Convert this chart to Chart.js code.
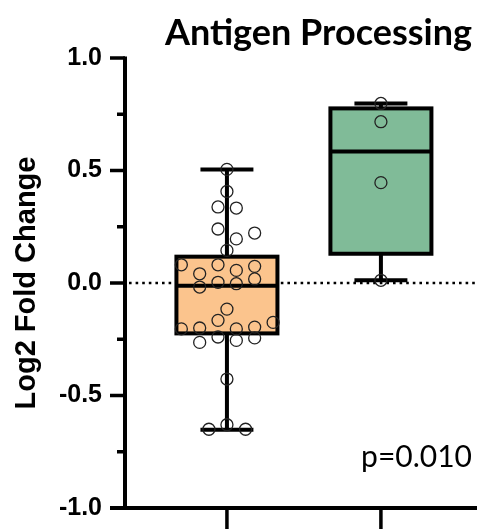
<!DOCTYPE html>
<html>
<head>
<meta charset="utf-8">
<script src="https://cdn.jsdelivr.net/npm/chart.js@4.4.1/dist/chart.umd.min.js"></script>
<style>
  html, body { margin: 0; padding: 0; background: #fff; }
  #wrap { width: 477px; height: 529px; }
</style>
</head>
<body>
<div id="wrap"><canvas id="foldChart"></canvas></div>
<script>
// Groups sit at x = 1 and x = 2 on a linear axis
const groupPositions = [1, 2];
const boxColors = ['#FBC48D', '#80BB98'];

// Box summaries: whisker low, Q1, median, Q3, whisker high
const boxLow = [-0.652, 0.012];
const boxQ1 = [-0.224, 0.130];
const boxMedian = [-0.012, 0.584];
const boxQ3 = [0.117, 0.776];
const boxHigh = [0.505, 0.798];

// Individual genes, group 1 (x = jitter offset around the group)
const group1Offsets = [0, 0, -0.058, 0.061, -0.058, 0.18, 0.061, 0,
  -0.296, -0.058, 0.061, 0.18, -0.177, 0.18, -0.058, 0.061, -0.177,
  0, -0.058, 0.30, -0.296, -0.177, 0.061, 0.18, -0.058, -0.177, 0.061, 0.18,
  0, -0.117, 0, 0.121];
const group1Values = [0.505, 0.407, 0.338, 0.333, 0.240, 0.222, 0.196, 0.145,
  0.081, 0.081, 0.056, 0.074, 0.041, 0.018, 0.003, -0.003, -0.018,
  -0.116, -0.166, -0.175, -0.204, -0.200, -0.204, -0.196, -0.240, -0.264, -0.255, -0.244,
  -0.427, -0.650, -0.630, -0.650];

// Group 2
const group2Offsets = [0, 0, 0, 0];
const group2Values = [0.798, 0.717, 0.446, 0.012];

const yTickStep = 0.25;
const pValueText = 'p=0.010';
const titleText = 'Antigen Processing';

const toPoints = (pos, offs, vals) => vals.map((v, i) => ({ x: pos + offs[i], y: v }));

const BOX_HALF = 0.328;
const CAP_HALF = 0.172;

const boxPlugin = {
  id: 'boxWhisker',
  beforeDatasetsDraw(chart) {
    const { ctx, chartArea, scales: { x, y } } = chart;
    ctx.save();
    // dotted zero line
    ctx.setLineDash([2.6, 4]);
    ctx.lineWidth = 2.7;
    ctx.strokeStyle = '#000';
    ctx.beginPath();
    ctx.moveTo(chartArea.left + 4, y.getPixelForValue(0));
    ctx.lineTo(chartArea.right, y.getPixelForValue(0));
    ctx.stroke();
    ctx.setLineDash([]);

    groupPositions.forEach((pos, i) => {
      const cx = x.getPixelForValue(pos);
      const hw = x.getPixelForValue(pos + BOX_HALF) - cx;
      const cw = x.getPixelForValue(pos + CAP_HALF) - cx;
      const yLow = y.getPixelForValue(boxLow[i]);
      const yHigh = y.getPixelForValue(boxHigh[i]);
      const yQ1 = y.getPixelForValue(boxQ1[i]);
      const yQ3 = y.getPixelForValue(boxQ3[i]);
      const yMed = y.getPixelForValue(boxMedian[i]);

      ctx.strokeStyle = '#000';
      ctx.lineWidth = 4;
      ctx.beginPath();
      ctx.moveTo(cx, yLow); ctx.lineTo(cx, yHigh);
      ctx.moveTo(cx - cw, yLow); ctx.lineTo(cx + cw, yLow);
      ctx.moveTo(cx - cw, yHigh); ctx.lineTo(cx + cw, yHigh);
      ctx.stroke();

      ctx.fillStyle = boxColors[i];
      ctx.fillRect(cx - hw, yQ3, hw * 2, yQ1 - yQ3);
      ctx.strokeRect(cx - hw, yQ3, hw * 2, yQ1 - yQ3);
      ctx.beginPath();
      ctx.moveTo(cx - hw, yMed); ctx.lineTo(cx + hw, yMed);
      ctx.stroke();
    });
    ctx.restore();
  },
  afterDraw(chart) {
    const { ctx, chartArea, scales: { x, y } } = chart;
    ctx.save();
    ctx.strokeStyle = '#000';
    // axes
    ctx.lineWidth = 4;
    ctx.beginPath();
    ctx.moveTo(chartArea.left, chartArea.top - 1.5);
    ctx.lineTo(chartArea.left, chartArea.bottom);
    ctx.moveTo(chartArea.left - 15, chartArea.bottom);
    ctx.lineTo(chart.width, chartArea.bottom);
    ctx.stroke();
    // y ticks, long at labelled values
    ctx.lineWidth = 3.5;
    ctx.beginPath();
    y.ticks.forEach(t => {
      const py = y.getPixelForValue(t.value);
      const major = Math.round(t.value / yTickStep) % 2 === 0;
      ctx.moveTo(chartArea.left - (major ? 15 : 8), py);
      ctx.lineTo(chartArea.left, py);
    });
    // x ticks under each group
    groupPositions.forEach(pos => {
      const px = x.getPixelForValue(pos);
      ctx.moveTo(px, chartArea.bottom);
      ctx.lineTo(px, chart.height);
    });
    ctx.stroke();

    ctx.fillStyle = '#000';
    ctx.textAlign = 'right';
    ctx.textBaseline = 'alphabetic';
    ctx.font = 'bold 36px Lato, "Open Sans", sans-serif';
    ctx.fillText(titleText, 472, 45);
    ctx.font = '30px Lato, "Open Sans", sans-serif';
    ctx.fillText(pValueText, 472, 467);
    ctx.restore();
  }
};

new Chart(document.getElementById('foldChart'), {
  type: 'scatter',
  data: {
    datasets: [
      { data: toPoints(groupPositions[0], group1Offsets, group1Values) },
      { data: toPoints(groupPositions[1], group2Offsets, group2Values) }
    ]
  },
  options: {
    responsive: true,
    maintainAspectRatio: false,
    animation: false,
    layout: { autoPadding: false, padding: { top: 58, right: 0, bottom: 21, left: 0 } },
    elements: {
      point: {
        radius: 6,
        borderWidth: 1.3,
        borderColor: '#222',
        backgroundColor: 'rgba(0,0,0,0)'
      }
    },
    plugins: {
      legend: { display: false },
      tooltip: { enabled: false }
    },
    scales: {
      x: {
        type: 'linear',
        display: false,
        min: 0.338,
        max: 2.624
      },
      y: {
        min: -1,
        max: 1,
        afterFit: (scale) => {
          // fixed axis width; tick labels may overhang the plot edges
          scale.width = 125;
          scale.paddingTop = 0;
          scale.paddingBottom = 0;
        },
        border: { display: false },
        grid: { display: false, drawTicks: false },
        ticks: {
          stepSize: yTickStep,
          autoSkip: false,
          padding: 23,
          color: '#000',
          font: { family: '"Liberation Sans", Arial, sans-serif', size: 25, weight: 'bold' },
          callback: (v) => Math.round(v / yTickStep) % 2 === 0 ? Number(v).toFixed(1) : ''
        },
        title: {
          display: true,
          text: 'Log2 Fold Change',
          color: '#000',
          padding: { top: 10, bottom: 0 },
          font: { family: '"Liberation Sans", Arial, sans-serif', size: 29, weight: 'bold' }
        }
      }
    }
  },
  plugins: [boxPlugin]
});
</script>
</body>
</html>
